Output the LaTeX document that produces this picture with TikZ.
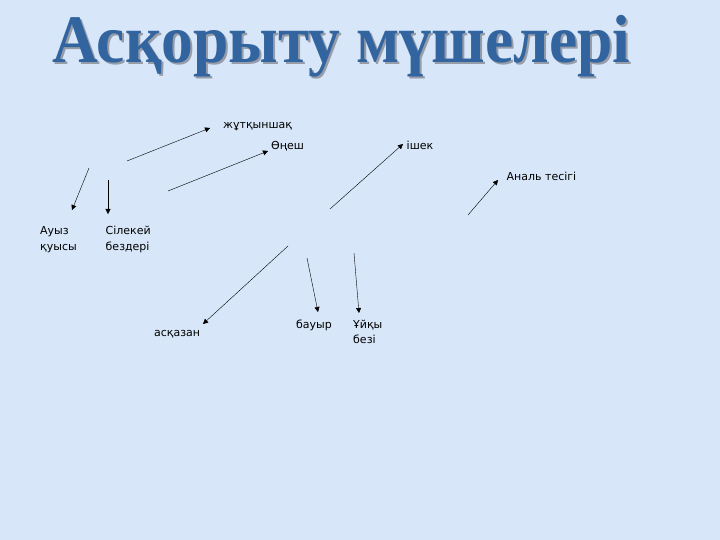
\documentclass[tikz,border=0pt]{standalone}
\usepackage{fontspec}
\setmainfont{DejaVu Sans}
\newfontfamily\titlefont{Liberation Serif}
\usetikzlibrary{arrows.meta}
\definecolor{bgblue}{RGB}{215,230,248}
\definecolor{titleblue}{RGB}{50,100,160}
\definecolor{shadowgray}{RGB}{150,156,168}

\begin{document}
\begin{tikzpicture}[x=1pt,y=-1pt,
        organ/.style={inner sep=0pt, anchor=base west, align=left, font=\fontsize{11}{15.5}\selectfont},
        heading/.style={inner sep=0pt, anchor=base, xscale=0.935, font=\titlefont\bfseries\fontsize{68}{72}\selectfont},
        arr/.style={-{Triangle[width=5pt,length=5pt]}, thin, black}
      ]
        \fill[bgblue] (0,0) rectangle (720,540);
        \useasboundingbox (0,0) rectangle (720,540);

        % title with shadow
        \node[heading, shadowgray] (titleshadow) at (343.5,65) {Асқорыту мүшелері};
        \node[heading, titleblue] (title) at (341.5,63) {Асқорыту мүшелері};

        % labels (two-line ones sit on their last baseline)
        \node[organ] (zhut) at (223,129) {жұтқыншақ};
        \node[organ] (onesh) at (271,149.5) {Өңеш};
        \node[organ] (ishek) at (406.5,150) {ішек};
        \node[organ] (anal) at (506.5,180.5) {Аналь тесігі};
        \node[organ] (auyz) at (40,250.5) {Ауыз\\қуысы};
        \node[organ] (silekei) at (105.5,250.5) {Сілекей\\бездері};
        \node[organ] (askazan) at (154,336) {асқазан};
        \node[organ] (bauyr) at (296,328) {бауыр};
        \node[organ] (uiky) at (353,343.5) {Ұйқы\\безі};

        % arrow ends
        \coordinate (s1) at (127,161);  \coordinate (t1) at (210,128);
        \coordinate (s2) at (168,191);  \coordinate (t2) at (268,151);
        \coordinate (s3) at (89,168);   \coordinate (t3) at (72,210);
        \coordinate (s4) at (108,180);  \coordinate (t4) at (108,214);
        \coordinate (s5) at (330,209);  \coordinate (t5) at (403,144);
        \coordinate (s6) at (468,215);  \coordinate (t6) at (498,180);
        \coordinate (s7) at (288,246);  \coordinate (t7) at (203,324);
        \coordinate (s8) at (307,258);  \coordinate (t8) at (318,312);
        \coordinate (s9) at (354,253);  \coordinate (t9) at (359,313);

        \draw[arr] (s1) -- (t1);
        \draw[arr] (s2) -- (t2);
        \draw[arr] (s3) -- (t3);
        \draw[arr] (s4) -- (t4);
        \draw[arr] (s5) -- (t5);
        \draw[arr] (s6) -- (t6);
        \draw[arr] (s7) -- (t7);
        \draw[arr] (s8) -- (t8);
        \draw[arr] (s9) -- (t9);
      \end{tikzpicture}
\end{document}
